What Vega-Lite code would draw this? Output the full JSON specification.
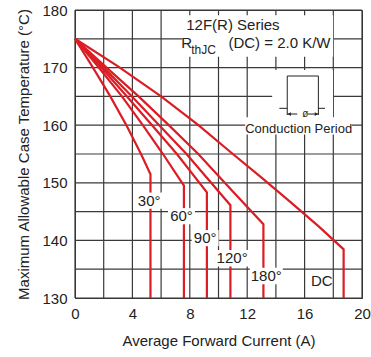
{
  "$schema": "https://vega.github.io/schema/vega-lite/v6.json",
  "width": 287,
  "height": 288,
  "autosize": {"type": "none"},
  "padding": {"left": 75, "top": 10, "right": 9, "bottom": 59},
  "background": "white",
  "config": {
    "view": {"stroke": "#333", "strokeWidth": 1},
    "font": "Liberation Sans",
    "axis": {
      "labelFont": "Liberation Sans",
      "titleFont": "Liberation Sans",
      "labelFontSize": 15,
      "titleFontSize": 15,
      "titleFontWeight": "normal",
      "labelColor": "#222",
      "titleColor": "#222",
      "grid": false,
      "ticks": false,
      "domainColor": "#333",
      "labelFlush": false
    }
  },
  "datasets": {
    "gx": [{"v": 0}, {"v": 2}, {"v": 4}, {"v": 6}, {"v": 8}, {"v": 10}, {"v": 12}, {"v": 14}, {"v": 16}, {"v": 18}, {"v": 20}],
    "gy": [{"v": 130}, {"v": 135}, {"v": 140}, {"v": 145}, {"v": 150}, {"v": 155}, {"v": 160}, {"v": 165}, {"v": 170}, {"v": 175}, {"v": 180}],
    "curves": [
      {"s": "30", "o": 0, "i": 0, "t": 175},
      {"s": "30", "o": 1, "i": 1.2, "t": 170.2},
      {"s": "30", "o": 2, "i": 2.46, "t": 165},
      {"s": "30", "o": 3, "i": 3.6, "t": 159.9},
      {"s": "30", "o": 4, "i": 4.6, "t": 155},
      {"s": "30", "o": 5, "i": 5.26, "t": 151.5},
      {"s": "30", "o": 6, "i": 5.26, "t": 130},
      {"s": "60", "o": 0, "i": 0, "t": 175},
      {"s": "60", "o": 1, "i": 1.6, "t": 170.2},
      {"s": "60", "o": 2, "i": 3.27, "t": 165},
      {"s": "60", "o": 3, "i": 4.7, "t": 160.1},
      {"s": "60", "o": 4, "i": 6.13, "t": 155},
      {"s": "60", "o": 5, "i": 7.59, "t": 149.5},
      {"s": "60", "o": 6, "i": 7.59, "t": 130},
      {"s": "90", "o": 0, "i": 0, "t": 175},
      {"s": "90", "o": 1, "i": 1.8, "t": 170.1},
      {"s": "90", "o": 2, "i": 3.62, "t": 165},
      {"s": "90", "o": 3, "i": 5.4, "t": 159.9},
      {"s": "90", "o": 4, "i": 7.1, "t": 155},
      {"s": "90", "o": 5, "i": 9.19, "t": 148.35},
      {"s": "90", "o": 6, "i": 9.19, "t": 130},
      {"s": "120", "o": 0, "i": 0, "t": 175},
      {"s": "120", "o": 1, "i": 2.0, "t": 170.0},
      {"s": "120", "o": 2, "i": 3.97, "t": 165},
      {"s": "120", "o": 3, "i": 5.9, "t": 159.9},
      {"s": "120", "o": 4, "i": 7.77, "t": 155},
      {"s": "120", "o": 5, "i": 10.83, "t": 146.1},
      {"s": "120", "o": 6, "i": 10.83, "t": 130},
      {"s": "180", "o": 0, "i": 0, "t": 175},
      {"s": "180", "o": 1, "i": 2.2, "t": 170.0},
      {"s": "180", "o": 2, "i": 4.43, "t": 165},
      {"s": "180", "o": 3, "i": 6.5, "t": 160.1},
      {"s": "180", "o": 4, "i": 8.59, "t": 155},
      {"s": "180", "o": 5, "i": 11.0, "t": 148.5},
      {"s": "180", "o": 6, "i": 13.13, "t": 142.8},
      {"s": "180", "o": 7, "i": 13.13, "t": 130},
      {"s": "DC", "o": 0, "i": 0, "t": 175},
      {"s": "DC", "o": 1, "i": 3.0, "t": 170.2},
      {"s": "DC", "o": 2, "i": 6.0, "t": 165},
      {"s": "DC", "o": 3, "i": 8.6, "t": 160},
      {"s": "DC", "o": 4, "i": 11.0, "t": 155},
      {"s": "DC", "o": 5, "i": 13.0, "t": 150.9},
      {"s": "DC", "o": 6, "i": 15.0, "t": 146.7},
      {"s": "DC", "o": 7, "i": 17.0, "t": 142.4},
      {"s": "DC", "o": 8, "i": 18.72, "t": 138.45},
      {"s": "DC", "o": 9, "i": 18.72, "t": 130}
    ],
    "labels": [
      {"label": "30°", "i": 5.17, "t": 146.9, "n": 3},
      {"label": "60°", "i": 7.42, "t": 144.2, "n": 3},
      {"label": "90°", "i": 9.07, "t": 140.4, "n": 3},
      {"label": "120°", "i": 10.95, "t": 136.9, "n": 4},
      {"label": "180°", "i": 13.33, "t": 133.8, "n": 4},
      {"label": "DC", "i": 17.2, "t": 133.0, "n": 2}
    ],
    "boxes": [
      {"i": 7.48, "i2": 17.99, "t": 179.1, "t2": 171.9},
      {"i": 13.74, "i2": 17.98, "t": 169.6, "t2": 161.0},
      {"i": 11.86, "i2": 19.3, "t": 161.4, "t2": 158.4}
    ],
    "pulse": [
      {"i": 14.79, "i2": 14.79, "t": 168.54, "t2": 161.77},
      {"i": 16.96, "i2": 16.96, "t": 168.54, "t2": 161.77},
      {"i": 14.79, "i2": 16.96, "t": 168.54, "t2": 168.54},
      {"i": 14.24, "i2": 14.79, "t": 162.93, "t2": 162.93},
      {"i": 16.96, "i2": 17.42, "t": 162.93, "t2": 162.93},
      {"i": 14.79, "i2": 15.49, "t": 161.94, "t2": 161.94},
      {"i": 16.24, "i2": 16.96, "t": 161.94, "t2": 161.94}
    ],
    "arrows": [
      {"i": 14.93, "t": 161.94, "dir": "left"},
      {"i": 16.82, "t": 161.94, "dir": "right"}
    ],
    "notes": [
      {"txt": "12F(R) Series", "i": 7.75, "t": 177.4, "fs": 15},
      {"txt": "R", "i": 7.4, "t": 174.3, "fs": 15},
      {"txt": "thJC", "i": 8.1, "t": 173.0, "fs": 12},
      {"txt": "(DC) = 2.0 K/W", "i": 10.69, "t": 174.2, "fs": 15},
      {"txt": "Conduction Period", "i": 11.86, "t": 159.3, "fs": 13},
      {"txt": "ø", "i": 15.84, "t": 161.94, "fs": 10}
    ]
  },
  "layer": [
    {
      "data": {"name": "gx"},
      "mark": {"type": "rule", "color": "#3a3a3a", "strokeWidth": 1.2},
      "encoding": {
        "x": {"field": "v", "type": "quantitative",
          "scale": {"domain": [0, 20], "nice": false, "zero": false},
          "axis": {
            "values": [0, 4, 8, 12, 16, 20],
            "title": "Average Forward Current (A)",
            "labelPadding": 8,
            "titlePadding": 12
          }
        }
      }
    },
    {
      "data": {"name": "gy"},
      "mark": {"type": "rule", "color": "#3a3a3a", "strokeWidth": 1.2},
      "encoding": {
        "y": {"field": "v", "type": "quantitative",
          "scale": {"domain": [130, 180], "nice": false, "zero": false},
          "axis": {
            "values": [130, 140, 150, 160, 170, 180],
            "title": "Maximum Allowable Case Temperature (°C)",
            "labelPadding": 8,
            "titlePadding": 10
          }
        }
      }
    },
    {
      "data": {"name": "boxes"},
      "mark": {"type": "rect", "fill": "white", "stroke": null},
      "encoding": {
        "x": {"field": "i", "type": "quantitative"},
        "x2": {"field": "i2"},
        "y": {"field": "t", "type": "quantitative"},
        "y2": {"field": "t2"}
      }
    },
    {
      "data": {"name": "pulse"},
      "mark": {"type": "rule", "color": "#222", "strokeWidth": 1},
      "encoding": {
        "x": {"field": "i", "type": "quantitative"},
        "x2": {"field": "i2"},
        "y": {"field": "t", "type": "quantitative"},
        "y2": {"field": "t2"}
      }
    },
    {
      "data": {"name": "arrows"},
      "mark": {"type": "point", "filled": true, "color": "#222", "size": 14, "opacity": 1},
      "encoding": {
        "x": {"field": "i", "type": "quantitative"},
        "y": {"field": "t", "type": "quantitative"},
        "shape": {"field": "dir", "type": "nominal", "legend": null,
          "scale": {"domain": ["left", "right"], "range": ["triangle-left", "triangle-right"]}}
      }
    },
    {
      "data": {"name": "curves"},
      "mark": {"type": "line", "color": "#dc1c24", "strokeWidth": 2.2, "strokeJoin": "miter"},
      "encoding": {
        "x": {"field": "i", "type": "quantitative"},
        "y": {"field": "t", "type": "quantitative"},
        "detail": {"field": "s", "type": "nominal"},
        "order": {"field": "o", "type": "quantitative"}
      }
    },
    {
      "data": {"name": "labels"},
      "transform": [{"filter": "datum.n == 3"}],
      "mark": {"type": "point", "filled": true, "color": "white", "opacity": 1, "size": 729,
        "shape": "M-1,-0.6H1V0.6H-1Z"},
      "encoding": {
        "x": {"field": "i", "type": "quantitative"},
        "y": {"field": "t", "type": "quantitative"}
      }
    },
    {
      "data": {"name": "labels"},
      "transform": [{"filter": "datum.n == 4"}],
      "mark": {"type": "point", "filled": true, "color": "white", "opacity": 1, "size": 1089,
        "shape": "M-1,-0.5H1V0.5H-1Z"},
      "encoding": {
        "x": {"field": "i", "type": "quantitative"},
        "y": {"field": "t", "type": "quantitative"}
      }
    },
    {
      "data": {"name": "labels"},
      "mark": {"type": "text", "fontSize": 15, "font": "Liberation Sans", "color": "#222", "baseline": "middle", "align": "center"},
      "encoding": {
        "x": {"field": "i", "type": "quantitative"},
        "y": {"field": "t", "type": "quantitative"},
        "text": {"field": "label"}
      }
    },
    {
      "data": {"name": "notes"},
      "mark": {"type": "text", "font": "Liberation Sans", "color": "#222", "baseline": "middle", "align": "left"},
      "encoding": {
        "x": {"field": "i", "type": "quantitative"},
        "y": {"field": "t", "type": "quantitative"},
        "text": {"field": "txt"},
        "size": {"field": "fs", "type": "quantitative", "scale": null}
      }
    }
  ]
}
